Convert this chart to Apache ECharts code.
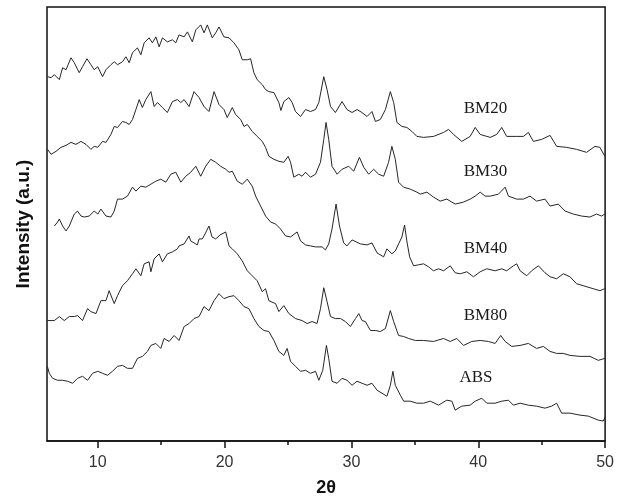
<!DOCTYPE html>
<html>
<head>
<meta charset="utf-8">
<script src="https://cdn.jsdelivr.net/npm/echarts@6/dist/echarts.min.js"></script>
<style>
html,body{margin:0;padding:0;background:#fff;}
#chart{width:617px;height:502px;}
</style>
</head>
<body>
<div id="chart"></div>
<script>
// ---- data (2θ in degrees, intensity in arbitrary units) ----
const seriesNames = ['BM20', 'BM30', 'BM40', 'BM80', 'ABS'];

const bm20 = [[6.05,366],[6.32,365],[6.58,368],[6.97,363],[7.23,375],[7.50,373],[7.89,385],[8.15,380],[8.54,370],[8.80,376],[9.15,384],[9.46,378],[9.72,373],[10.00,376],[10.38,366],[10.65,373],[11.04,378],[11.30,381],[11.56,378],[11.95,381],[12.22,386],[12.48,380],[12.74,390],[13.13,395],[13.40,388],[13.66,400],[14.05,405],[14.31,400],[14.58,406],[14.84,396],[15.10,405],[15.49,401],[15.89,403],[16.15,400],[16.41,408],[16.81,406],[17.07,411],[17.46,401],[17.73,413],[18.12,418],[18.38,410],[18.64,418],[19.03,405],[19.30,410],[19.56,416],[19.95,406],[20.35,405],[20.74,400],[21.13,393],[21.39,383],[21.79,383],[22.05,384],[22.31,370],[22.57,363],[22.97,358],[23.23,353],[23.49,351],[23.89,350],[24.28,340],[24.44,332],[24.67,341],[25.07,345],[25.33,340],[25.59,331],[25.99,326],[26.38,333],[26.77,331],[27.17,333],[27.43,340],[27.82,366],[28.08,353],[28.35,336],[28.74,330],[29.26,341],[29.65,333],[30.05,330],[30.44,333],[30.83,330],[31.23,326],[31.62,331],[31.89,321],[32.28,323],[32.68,333],[33.07,351],[33.33,340],[33.59,320],[33.98,316],[34.37,315],[34.77,311],[35.16,306],[35.69,305],[36.48,306],[37.26,310],[37.66,313],[38.05,308],[38.70,301],[39.36,306],[39.76,315],[40.15,308],[40.94,305],[41.46,308],[41.85,315],[42.24,306],[43.03,306],[43.56,306],[43.95,310],[44.34,301],[45.00,303],[45.66,307],[46.18,296],[46.96,295],[47.75,293],[48.54,290],[49.20,296],[49.59,295],[49.98,286]];

const bm30 = [[6.05,293],[6.32,288],[6.71,291],[7.10,295],[7.50,297],[7.89,300],[8.28,298],[8.68,301],[9.07,298],[9.46,293],[9.72,296],[10.00,295],[10.38,301],[10.65,300],[11.04,308],[11.30,316],[11.56,315],[11.95,321],[12.22,320],[12.48,318],[12.74,323],[13.01,333],[13.27,343],[13.52,335],[13.79,343],[14.19,351],[14.45,336],[14.71,340],[15.10,335],[15.49,330],[15.89,341],[16.28,343],[16.55,340],[16.81,343],[17.20,336],[17.59,351],[17.99,345],[18.38,336],[18.77,331],[19.17,351],[19.56,338],[19.95,333],[20.21,325],[20.61,335],[20.87,328],[21.27,323],[21.53,316],[21.79,318],[22.18,311],[22.57,306],[22.97,301],[23.23,295],[23.49,286],[23.89,283],[24.28,281],[24.67,280],[25.01,286],[25.20,280],[25.46,265],[25.85,268],[26.11,266],[26.38,270],[26.77,265],[27.17,268],[27.56,280],[27.82,303],[28.00,320],[28.21,303],[28.47,276],[28.87,268],[29.26,273],[29.79,276],[30.18,271],[30.63,285],[30.97,275],[31.36,268],[31.75,273],[32.15,268],[32.54,266],[32.93,280],[33.19,296],[33.46,283],[33.72,260],[34.11,255],[34.64,253],[35.16,250],[35.43,248],[35.95,250],[36.47,245],[37.00,241],[37.52,243],[38.18,238],[38.84,240],[39.36,243],[39.76,246],[40.15,250],[40.54,246],[40.94,246],[41.59,248],[42.12,255],[42.38,246],[43.03,243],[43.56,243],[44.08,246],[44.60,241],[45.26,243],[45.66,236],[46.31,238],[46.84,231],[47.49,228],[48.14,226],[48.80,225],[49.32,228],[49.72,226],[49.98,228]];

const bm40 = [[6.58,216],[6.84,220],[6.97,223],[7.23,216],[7.50,211],[7.76,216],[8.15,228],[8.41,231],[8.68,226],[8.94,225],[9.33,226],[9.72,231],[10.00,228],[10.25,233],[10.65,226],[11.04,225],[11.30,231],[11.56,243],[11.95,243],[12.34,246],[12.74,255],[13.01,251],[13.40,256],[13.79,255],[14.19,258],[14.58,261],[14.97,263],[15.37,260],[15.76,268],[16.15,270],[16.55,260],[16.94,266],[17.33,270],[17.73,276],[18.12,266],[18.51,276],[18.91,283],[19.30,280],[19.69,276],[20.09,273],[20.35,270],[20.61,271],[20.74,273],[21.00,261],[21.39,258],[21.79,263],[22.18,256],[22.45,246],[22.84,236],[23.23,226],[23.63,220],[24.02,218],[24.41,213],[24.81,206],[25.20,205],[25.72,210],[25.99,201],[26.38,197],[26.77,196],[27.17,195],[27.69,195],[27.95,192],[28.21,198],[28.47,213],[28.79,238],[29.06,216],[29.39,199],[29.65,196],[30.05,202],[30.71,198],[31.23,197],[31.62,199],[32.02,189],[32.54,185],[32.80,193],[33.19,188],[33.46,191],[33.72,198],[33.98,205],[34.19,217],[34.38,200],[34.59,185],[34.90,176],[35.29,177],[35.69,178],[36.08,175],[36.47,171],[36.87,173],[37.26,171],[37.79,176],[38.18,169],[38.58,168],[39.10,170],[39.62,165],[40.15,170],[40.67,173],[41.33,171],[41.85,173],[42.24,171],[42.77,176],[43.03,178],[43.30,171],[43.82,166],[44.21,171],[44.74,176],[45.26,169],[45.66,165],[46.18,163],[46.70,168],[47.23,165],[47.75,158],[48.28,156],[49.06,153],[49.59,151],[49.98,153]];

const bm80 = [[6.03,121],[6.18,123],[6.58,121],[6.97,125],[7.36,121],[7.76,125],[8.15,125],[8.41,126],[8.80,121],[9.20,133],[9.46,130],[9.86,128],[10.25,141],[10.65,141],[10.90,151],[11.30,138],[11.56,146],[11.95,156],[12.34,161],[12.74,168],[13.01,173],[13.40,166],[13.66,178],[14.05,180],[14.19,170],[14.45,183],[14.84,188],[15.10,180],[15.49,188],[15.89,190],[16.28,193],[16.41,196],[16.81,198],[17.20,206],[17.33,201],[17.85,197],[17.99,203],[18.25,203],[18.54,210],[18.77,216],[19.01,205],[19.30,203],[19.64,207],[20.09,210],[20.35,196],[20.61,193],[21.00,188],[21.39,181],[21.79,171],[22.18,166],[22.57,161],[22.97,150],[23.23,153],[23.49,141],[24.02,138],[24.28,130],[24.67,136],[25.07,128],[25.59,123],[26.11,121],[26.51,118],[26.90,120],[27.29,118],[27.56,133],[27.82,154],[28.08,140],[28.35,125],[28.74,123],[29.14,123],[29.53,120],[29.92,115],[30.32,123],[30.58,128],[30.84,121],[31.10,120],[31.50,111],[31.89,111],[32.28,110],[32.68,113],[33.07,131],[33.33,120],[33.72,106],[34.11,105],[34.51,103],[35.04,101],[35.69,101],[36.47,100],[37.26,103],[37.79,100],[38.31,103],[38.84,96],[39.49,100],[40.15,101],[40.80,100],[41.33,98],[41.77,106],[42.12,100],[42.64,95],[43.30,96],[43.95,98],[44.60,93],[45.13,95],[45.66,90],[46.18,88],[46.70,88],[47.23,86],[48.02,85],[48.81,85],[49.46,81],[49.98,83]];

const abs = [[6.03,75],[6.18,68],[6.44,63],[6.84,61],[7.23,61],[7.62,60],[8.02,58],[8.41,63],[8.80,65],[9.20,61],[9.59,68],[10.00,70],[10.38,68],[10.77,66],[11.16,70],[11.56,75],[11.95,76],[12.34,73],[12.74,73],[13.13,83],[13.52,85],[13.92,90],[14.19,96],[14.58,98],[14.97,93],[15.23,103],[15.63,100],[16.02,106],[16.41,101],[16.81,115],[17.20,118],[17.59,123],[17.99,125],[18.38,135],[18.77,131],[19.17,141],[19.56,148],[19.95,143],[20.35,145],[20.74,146],[21.13,141],[21.53,135],[21.92,133],[22.31,123],[22.71,115],[23.10,111],[23.49,110],[23.89,101],[24.28,90],[24.67,86],[24.93,93],[25.20,80],[25.59,75],[25.99,70],[26.38,71],[26.77,68],[27.17,70],[27.43,61],[27.74,71],[28.03,96],[28.21,83],[28.47,60],[28.87,58],[29.26,63],[29.65,61],[30.05,56],[30.44,60],[30.84,58],[31.23,56],[31.62,58],[32.02,51],[32.41,48],[32.80,45],[33.07,56],[33.27,70],[33.46,56],[33.86,46],[34.12,40],[34.64,40],[35.16,38],[35.69,38],[36.22,40],[36.87,36],[37.52,41],[37.92,40],[38.18,31],[38.70,35],[39.36,36],[39.76,40],[40.28,43],[40.67,38],[41.33,38],[41.85,40],[42.38,41],[42.77,36],[43.30,38],[43.95,36],[44.60,35],[45.26,33],[45.78,35],[46.18,38],[46.57,28],[47.23,28],[48.02,26],[48.67,25],[49.46,21],[49.85,20],[50.00,24]];

const majorTicks = [10, 20, 30, 40, 50];
const minorTicks = [15, 25, 35, 45];
const xTitle = '2θ';
const yTitle = 'Intensity (a.u.)';

// ---- rendering ----
const allSeries = [bm20, bm30, bm40, bm80, abs];
// label anchor points in data coordinates (2θ, intensity)
const labelAnchors = [[40.57, 334], [40.57, 271], [40.57, 193.5], [40.57, 126], [39.82, 64]];

const chart = echarts.init(document.getElementById('chart'), null, {renderer: 'canvas'});
const lineColor = '#262626';

const option = {
  animation: false,
  backgroundColor: '#fff',
  grid: {
    left: 47, right: 10, top: 7, bottom: 59,
    show: true, borderColor: '#111', borderWidth: 1.5, backgroundColor: 'transparent'
  },
  xAxis: [{
    type: 'value', min: 6, max: 50,
    name: xTitle, nameLocation: 'middle', nameGap: 38,
    nameTextStyle: {fontFamily: 'Liberation Sans, Arial', fontWeight: 'bold', fontSize: 18, color: '#111'},
    axisLine: {show: true, lineStyle: {color: '#111', width: 1.5}},
    axisTick: {show: true, inside: false, length: 7, lineStyle: {color: '#111', width: 1.5}, customValues: majorTicks},
    axisLabel: {show: true, margin: 14, fontFamily: 'Liberation Sans, Arial', fontSize: 16, color: '#333', customValues: majorTicks},
    splitLine: {show: false}
  }, {
    type: 'value', min: 6, max: 50, position: 'bottom',
    axisLine: {show: false},
    axisTick: {show: true, inside: false, length: 4, lineStyle: {color: '#111', width: 1.5}, customValues: minorTicks},
    axisLabel: {show: false},
    splitLine: {show: false}
  }],
  yAxis: {
    type: 'value', min: 0, max: 436,
    name: yTitle, nameLocation: 'middle', nameGap: 14,
    nameTextStyle: {fontFamily: 'Liberation Sans, Arial', fontWeight: 'bold', fontSize: 19, color: '#111'},
    axisLine: {show: false}, axisTick: {show: false}, axisLabel: {show: false}, splitLine: {show: false}
  },
  series: allSeries.map((d, i) => ({
    name: seriesNames[i],
    type: 'line',
    data: d,
    showSymbol: false,
    symbol: 'none',
    xAxisIndex: 0,
    lineStyle: {color: lineColor, width: 1},
    emphasis: {disabled: true}
  }))
};
chart.setOption(option);

const graphics = seriesNames.map((name, i) => {
  const p = chart.convertToPixel({gridIndex: 0}, labelAnchors[i]);
  return {
    type: 'text', x: p[0], y: p[1],
    style: {text: name, fill: '#1a1a1a', font: '17px "Liberation Serif", "Times New Roman", serif',
            textAlign: 'center', textVerticalAlign: 'middle'}
  };
});
chart.setOption({graphic: graphics});
</script>
</body>
</html>
